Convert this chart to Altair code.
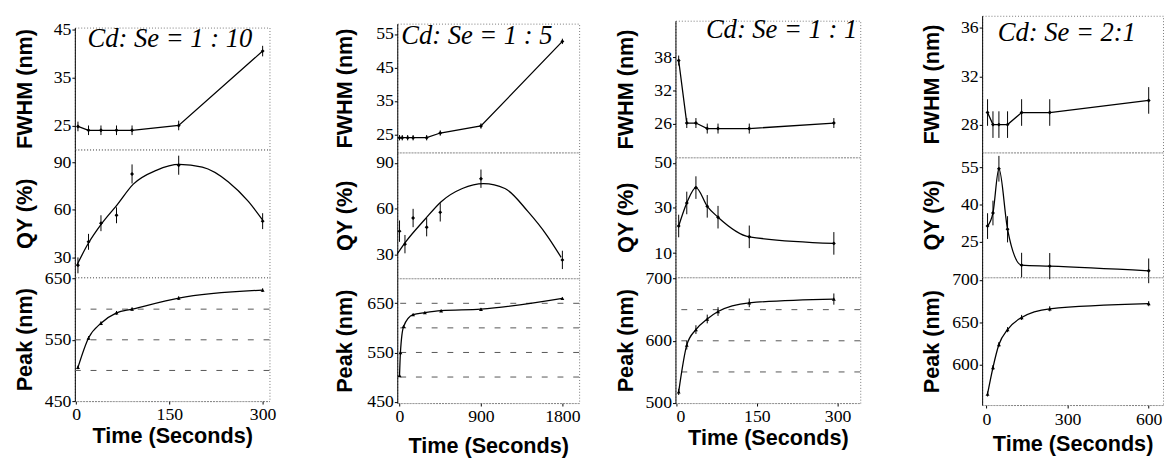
import altair as alt
import pandas as pd

# ---------------- data ----------------
NOTES = ["Cd: Se = 1 : 10", "Cd: Se = 1 : 5", "Cd: Se = 1 : 1", "Cd: Se = 2:1"]
Y_TITLES = ["FWHM (nm)", "QY (%)", "Peak (nm)"]
X_TITLE = "Time (Seconds)"

# column 1  (Cd:Se = 1:10)
C1_T = [3, 20, 40, 65, 90, 165, 300]
C1_FWHM = [24.8, 24.0, 24.0, 24.0, 24.0, 25.0, 40.5]
C1_FWHM_ERR = [1.0, 1.0, 1.0, 1.0, 1.0, 1.0, 1.1]
C1_QY = [25.1, 39.9, 51.6, 56.6, 82.6, 88.1, 52.9]
C1_QY_ERR = [5.0, 5.0, 5.0, 5.0, 6.0, 6.0, 5.0]
C1_QY_FIT_T = [1, 19, 42, 66, 92, 129, 166, 203, 245, 277, 300]
C1_QY_FIT = [25.0, 38.5, 51.8, 63.2, 76.2, 84.9, 88.6, 86.9, 77.6, 65.3, 53.5]
C1_PEAK = [505, 553, 577, 594, 600, 618, 631]
C1_PEAK_ERR = [3, 3, 3, 3, 3, 3, 3]
C1_GRID = [500, 550, 600]

# column 2  (Cd:Se = 1:5)
C2_FWHM_T = [0, 30, 90, 150, 300, 450, 900, 1800]
C2_FWHM = [24.0, 24.0, 24.0, 24.0, 24.0, 25.4, 27.5, 52.8]
C2_FWHM_ERR = [0.8, 0.8, 0.8, 0.8, 0.8, 0.8, 0.8, 0.8]
C2_QY_T = [0, 60, 150, 300, 450, 900, 1800]
C2_QY = [45.3, 36.8, 53.9, 47.9, 57.6, 79.6, 26.5]
C2_QY_ERR = [7.0, 6.0, 6.0, 6.0, 6.0, 6.0, 6.0]
C2_QY_FIT_T = [-25, 62, 279, 460, 694, 929, 1165, 1418, 1634, 1786]
C2_QY_FIT = [30.4, 37.8, 52.9, 64.6, 73.2, 76.4, 73.2, 58.2, 42.1, 28.2]
C2_PEAK_T = [0, 10, 45, 150, 280, 460, 900, 1800]
C2_PEAK = [503, 550, 603, 627, 631, 635, 638, 660]
C2_PEAK_ERR = [2, 2, 2, 2, 2, 2, 2, 2]
C2_GRID = [500, 550, 600, 650]

# column 3  (Cd:Se = 1:1)
C3_T = [5, 20, 37, 58, 78, 136, 293]
C3_FWHM = [37.4, 26.1, 26.1, 25.1, 25.1, 25.1, 26.1]
C3_FWHM_ERR = [0.9, 0.9, 0.9, 0.9, 0.9, 0.9, 0.9]
C3_QY = [22.0, 32.2, 39.0, 30.7, 25.9, 17.2, 14.3]
C3_QY_ERR = [5.0, 5.0, 5.0, 5.0, 5.0, 5.0, 5.0]
C3_PEAK = [518, 593, 618, 635, 647, 661, 667]
C3_PEAK_ERR = [5, 7, 7, 7, 7, 7, 9]
C3_GRID = [550, 600, 650]

# column 4  (Cd:Se = 2:1)
C4_T = [4, 24, 46, 78, 130, 234, 600]
C4_FWHM = [29.0, 28.0, 28.0, 28.0, 29.0, 29.0, 30.0]
C4_FWHM_ERR = [1.1, 1.1, 1.1, 1.1, 1.1, 1.1, 1.1]
C4_QY = [31.2, 36.5, 54.4, 29.9, 15.4, 15.0, 13.1]
C4_QY_ERR = [5.2, 5.0, 5.2, 5.3, 5.0, 5.3, 5.0]
C4_PEAK = [566, 597, 624, 641.5, 655.8, 666, 672]
C4_PEAK_ERR = [3, 3, 3, 3, 3, 3, 3]

# axis ticks and ranges
X_TICKS = [[0, 150, 300], [0, 900, 1800], [0, 150, 300], [0, 300, 600]]
X_DOM = [[-2, 311], [-25, 1985], [-1, 342], [-16, 653]]
FWHM_TICKS = [[25, 35, 45], [25, 35, 45, 55], [26, 32, 38], [28, 32, 36]]
FWHM_DOM = [[20, 45.4], [19.6, 58.1], [19.9, 44.6], [25.7, 37]]
QY_TICKS = [[30, 60, 90], [30, 60, 90], [10, 30, 50], [25, 40, 55]]
QY_DOM = [[17.6, 98], [14.5, 96.8], [-0.7, 52.4], [10.5, 61]]
PEAK_TICKS = [[450, 550, 650], [450, 550, 650], [500, 600, 700], [550, 600, 650, 700]]
PEAK_DOM = [[450, 652], [447, 701], [500, 702], [553, 703]]

# ---------------- layout / style ----------------
WIDTHS = [198, 185, 188, 184]
HEIGHTS = [[124, 130, 126], [131, 128, 127], [139, 122, 128], [139, 127, 130]]
TOP_SHIFT = [12, 8, 5, 0]
Y_TPAD = [9, 12, 9, 9]
X_LPAD = [2, 2, 2, 3]
X_TPAD = [2.5, 10.5, 2, 5.5]
GAPS = [54.5, 31, 58.5]
NOTE_POS = [(13, -1), (4, 0), (31, -3), (16, 5)]

BLACK = "black"
SERIF = "Liberation Serif, Times New Roman, Times, DejaVu Serif, serif"
SANS = "Liberation Sans, Arial, Helvetica, sans-serif"


def y_axis(values, title, tp):
    return alt.Axis(values=values, title=title, titleFont=SANS, titleFontSize=22,
                    titleFontWeight="bold", titleColor=BLACK, titlePadding=tp,
                    labelFont=SERIF, labelFontSize=18, labelColor=BLACK, labelPadding=1,
                    tickSize=3, tickColor=BLACK, domainColor=BLACK, grid=False,
                    minExtent=30, maxExtent=30, labelOverlap=False, format="d")


def x_axis_bottom(values, lp, tp):
    return alt.Axis(values=values, title=X_TITLE, titleFont=SANS, titleFontSize=22,
                    titleFontWeight="bold", titleColor=BLACK, titlePadding=tp,
                    labelFont=SERIF, labelFontSize=18, labelColor=BLACK, labelPadding=lp,
                    tickSize=3, tickColor=BLACK, domainColor="#777", domainDash=[1, 2],
                    grid=False, labelOverlap=False, format="d")


def panel(t, v, err, xdom, ydom, xaxis, yaxis, w, h, interp, shape,
          fit_t=None, fit_v=None, grid=None, note=None, note_pos=None):
    df = pd.DataFrame({"t": t, "v": v,
                       "lo": [a - b for a, b in zip(v, err)],
                       "hi": [a + b for a, b in zip(v, err)]})
    xs = alt.Scale(domain=xdom, nice=False, zero=False)
    ys = alt.Scale(domain=ydom, nice=False, zero=False)

    def X(field="t"):
        return alt.X(f"{field}:Q", scale=xs, axis=xaxis)

    def Y(field):
        return alt.Y(f"{field}:Q", scale=ys, axis=yaxis)

    layers = []
    if grid is not None:
        layers.append(alt.Chart(pd.DataFrame({"v": grid}))
                      .mark_rule(color="#555", strokeDash=[6, 10], strokeWidth=1)
                      .encode(y=Y("v")))
    line_df = df if fit_t is None else pd.DataFrame({"t": fit_t, "v": fit_v})
    layers.append(alt.Chart(line_df).mark_line(color=BLACK, strokeWidth=1.3,
                                               interpolate=interp)
                  .encode(x=X(), y=Y("v")))
    layers.append(alt.Chart(df).mark_rule(color=BLACK, strokeWidth=1)
                  .encode(x=X(), y=Y("lo"), y2="hi:Q"))
    layers.append(alt.Chart(df).mark_point(filled=True, shape=shape, size=16,
                                           color=BLACK, opacity=1)
                  .encode(x=X(), y=Y("v")))
    if note is not None:
        layers.append(alt.Chart(pd.DataFrame({"label": [note]}))
                      .mark_text(align="left", baseline="top", font=SERIF,
                                 fontStyle="italic", fontSize=27, color=BLACK)
                      .encode(x=alt.value(note_pos[0]), y=alt.value(note_pos[1]),
                              text="label:N"))
    return alt.layer(*layers).properties(width=w, height=h)


def spacer(wd, ht):
    return (alt.Chart(pd.DataFrame({"t": [0]}))
            .mark_point(opacity=0, size=0, strokeWidth=0)
            .encode(x=alt.value(0), y=alt.value(0))
            .properties(width=wd, height=ht,
                        view=alt.ViewBackground(stroke="transparent")))


SERIES = [
    dict(ft=C1_T, f=C1_FWHM, fe=C1_FWHM_ERR, qt=C1_T, q=C1_QY, qe=C1_QY_ERR,
         qft=C1_QY_FIT_T, qf=C1_QY_FIT, pt=C1_T, p=C1_PEAK, pe=C1_PEAK_ERR, g=C1_GRID),
    dict(ft=C2_FWHM_T, f=C2_FWHM, fe=C2_FWHM_ERR, qt=C2_QY_T, q=C2_QY, qe=C2_QY_ERR,
         qft=C2_QY_FIT_T, qf=C2_QY_FIT, pt=C2_PEAK_T, p=C2_PEAK, pe=C2_PEAK_ERR, g=C2_GRID),
    dict(ft=C3_T, f=C3_FWHM, fe=C3_FWHM_ERR, qt=C3_T, q=C3_QY, qe=C3_QY_ERR,
         qft=None, qf=None, pt=C3_T, p=C3_PEAK, pe=C3_PEAK_ERR, g=C3_GRID),
    dict(ft=C4_T, f=C4_FWHM, fe=C4_FWHM_ERR, qt=C4_T, q=C4_QY, qe=C4_QY_ERR,
         qft=None, qf=None, pt=C4_T, p=C4_PEAK, pe=C4_PEAK_ERR, g=None),
]

columns = []
for i, s in enumerate(SERIES):
    w = WIDTHS[i]
    h1, h2, h3 = HEIGHTS[i]
    fw = panel(s["ft"], s["f"], s["fe"], X_DOM[i], FWHM_DOM[i], None,
               y_axis(FWHM_TICKS[i], Y_TITLES[0], Y_TPAD[i]), w, h1, "linear", "diamond",
               note=NOTES[i], note_pos=NOTE_POS[i])
    qy = panel(s["qt"], s["q"], s["qe"], X_DOM[i], QY_DOM[i], None,
               y_axis(QY_TICKS[i], Y_TITLES[1], Y_TPAD[i]), w, h2, "monotone", "diamond",
               fit_t=s["qft"], fit_v=s["qf"])
    pk = panel(s["pt"], s["p"], s["pe"], X_DOM[i], PEAK_DOM[i],
               x_axis_bottom(X_TICKS[i], X_LPAD[i], X_TPAD[i]),
               y_axis(PEAK_TICKS[i], Y_TITLES[2], Y_TPAD[i]), w, h3, "monotone",
               "triangle-up", grid=s["g"])
    parts = [fw, qy, pk]
    if TOP_SHIFT[i] > 0:
        parts = [spacer(1, TOP_SHIFT[i])] + parts
    columns.append(alt.vconcat(*parts, spacing=0, bounds="flush"))

items = []
for i, col in enumerate(columns):
    items.append(col)
    if i < len(GAPS):
        items.append(spacer(GAPS[i], 1))

chart = (alt.hconcat(*items, spacing=0)
         .properties(padding={"left": 5, "top": 3, "right": 0, "bottom": 0})
         .configure_view(stroke="#777", strokeDash=[1, 2], strokeWidth=1))

chart.save("out.html", embed_options={"renderer": "svg", "actions": False})
